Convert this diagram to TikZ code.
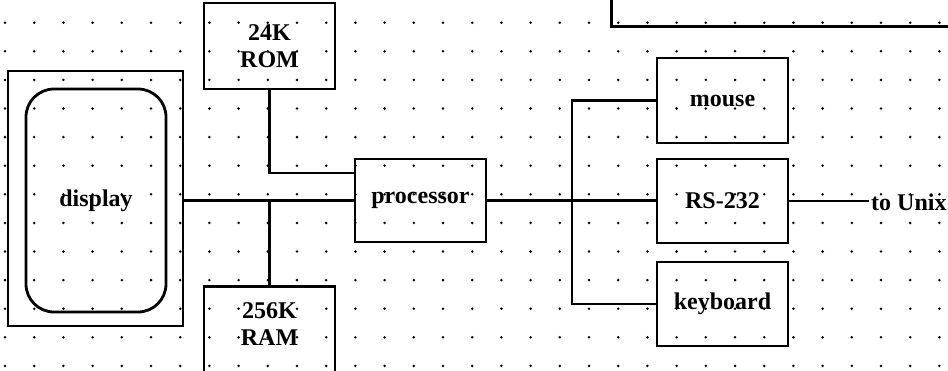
\documentclass[tikz,border=0pt]{standalone}
\usepackage{fontspec}
\setmainfont{Liberation Serif}
\begin{document}
\begin{tikzpicture}[x=1pt,y=-1pt,
  boxline/.style={draw=black, line width=2.8pt, inner sep=0pt},
  txt/.style={font=\bfseries\fontsize{24}{26.7}\selectfont, align=center},
  blk/.style={boxline, txt, minimum width=131pt},
  lbl/.style={txt, inner sep=0pt},
  wire/.style={draw=black, line width=2.2pt},
  griddot/.style={fill=black}]
\useasboundingbox (0,0) rectangle (948,370);
\clip (0,0) rectangle (948,370);
% dotted grid
\foreach \i in {0,...,32}{\foreach \j in {0,...,12}{
  \fill[griddot] (5+29.2*\i, 22.7+28.6*\j) circle (1.4pt);}}
% boxes
\node[boxline, line width=3.2pt, minimum width=400pt, minimum height=100pt, anchor=south west] (topbox) at (610,28) {};
\node[blk, minimum height=86pt] (rom) at (269.5,46) {24K\\ROM};
\node[boxline, minimum width=175pt, minimum height=255pt] (disp) at (95.5,198.5) {};
\node[boxline, txt, rounded corners=28pt, minimum width=140pt, minimum height=223pt] (scr) at (96,200.5) {display};
\node[blk, minimum height=83pt] (proc) at (420.5,200.5) {processor};
\node[boxline, minimum width=131pt, minimum height=120pt, anchor=north] (ram) at (269.5,285) {};
\node[lbl] (ramtxt) at (269.5,324) {256K\\RAM};
\node[blk, minimum height=85pt] (mouse) at (722.5,100.5) {mouse};
\node[blk, minimum height=84pt] (rs) at (722.5,201) {RS-232};
\node[blk, minimum height=84pt] (kbd) at (722.5,304) {keyboard};
\node[lbl, anchor=west, inner xsep=2pt] (unix) at (869,202) {to Unix};
% wires
\draw[wire] (rom.south) |- (proc.west |- 0,173);
\draw[wire] (disp.east |- proc.west) -- (proc.west);
\draw[wire] (ram.north |- proc.west) -- (ram.north);
\draw[wire] (proc.east) -- (proc.east -| rs.west);
\coordinate (bus) at (572,200.5);
\draw[wire] (mouse.west) -| (bus) |- (kbd.west);
\draw[wire] (rs.east) -- (rs.east -| unix.west);
\end{tikzpicture}
\end{document}
